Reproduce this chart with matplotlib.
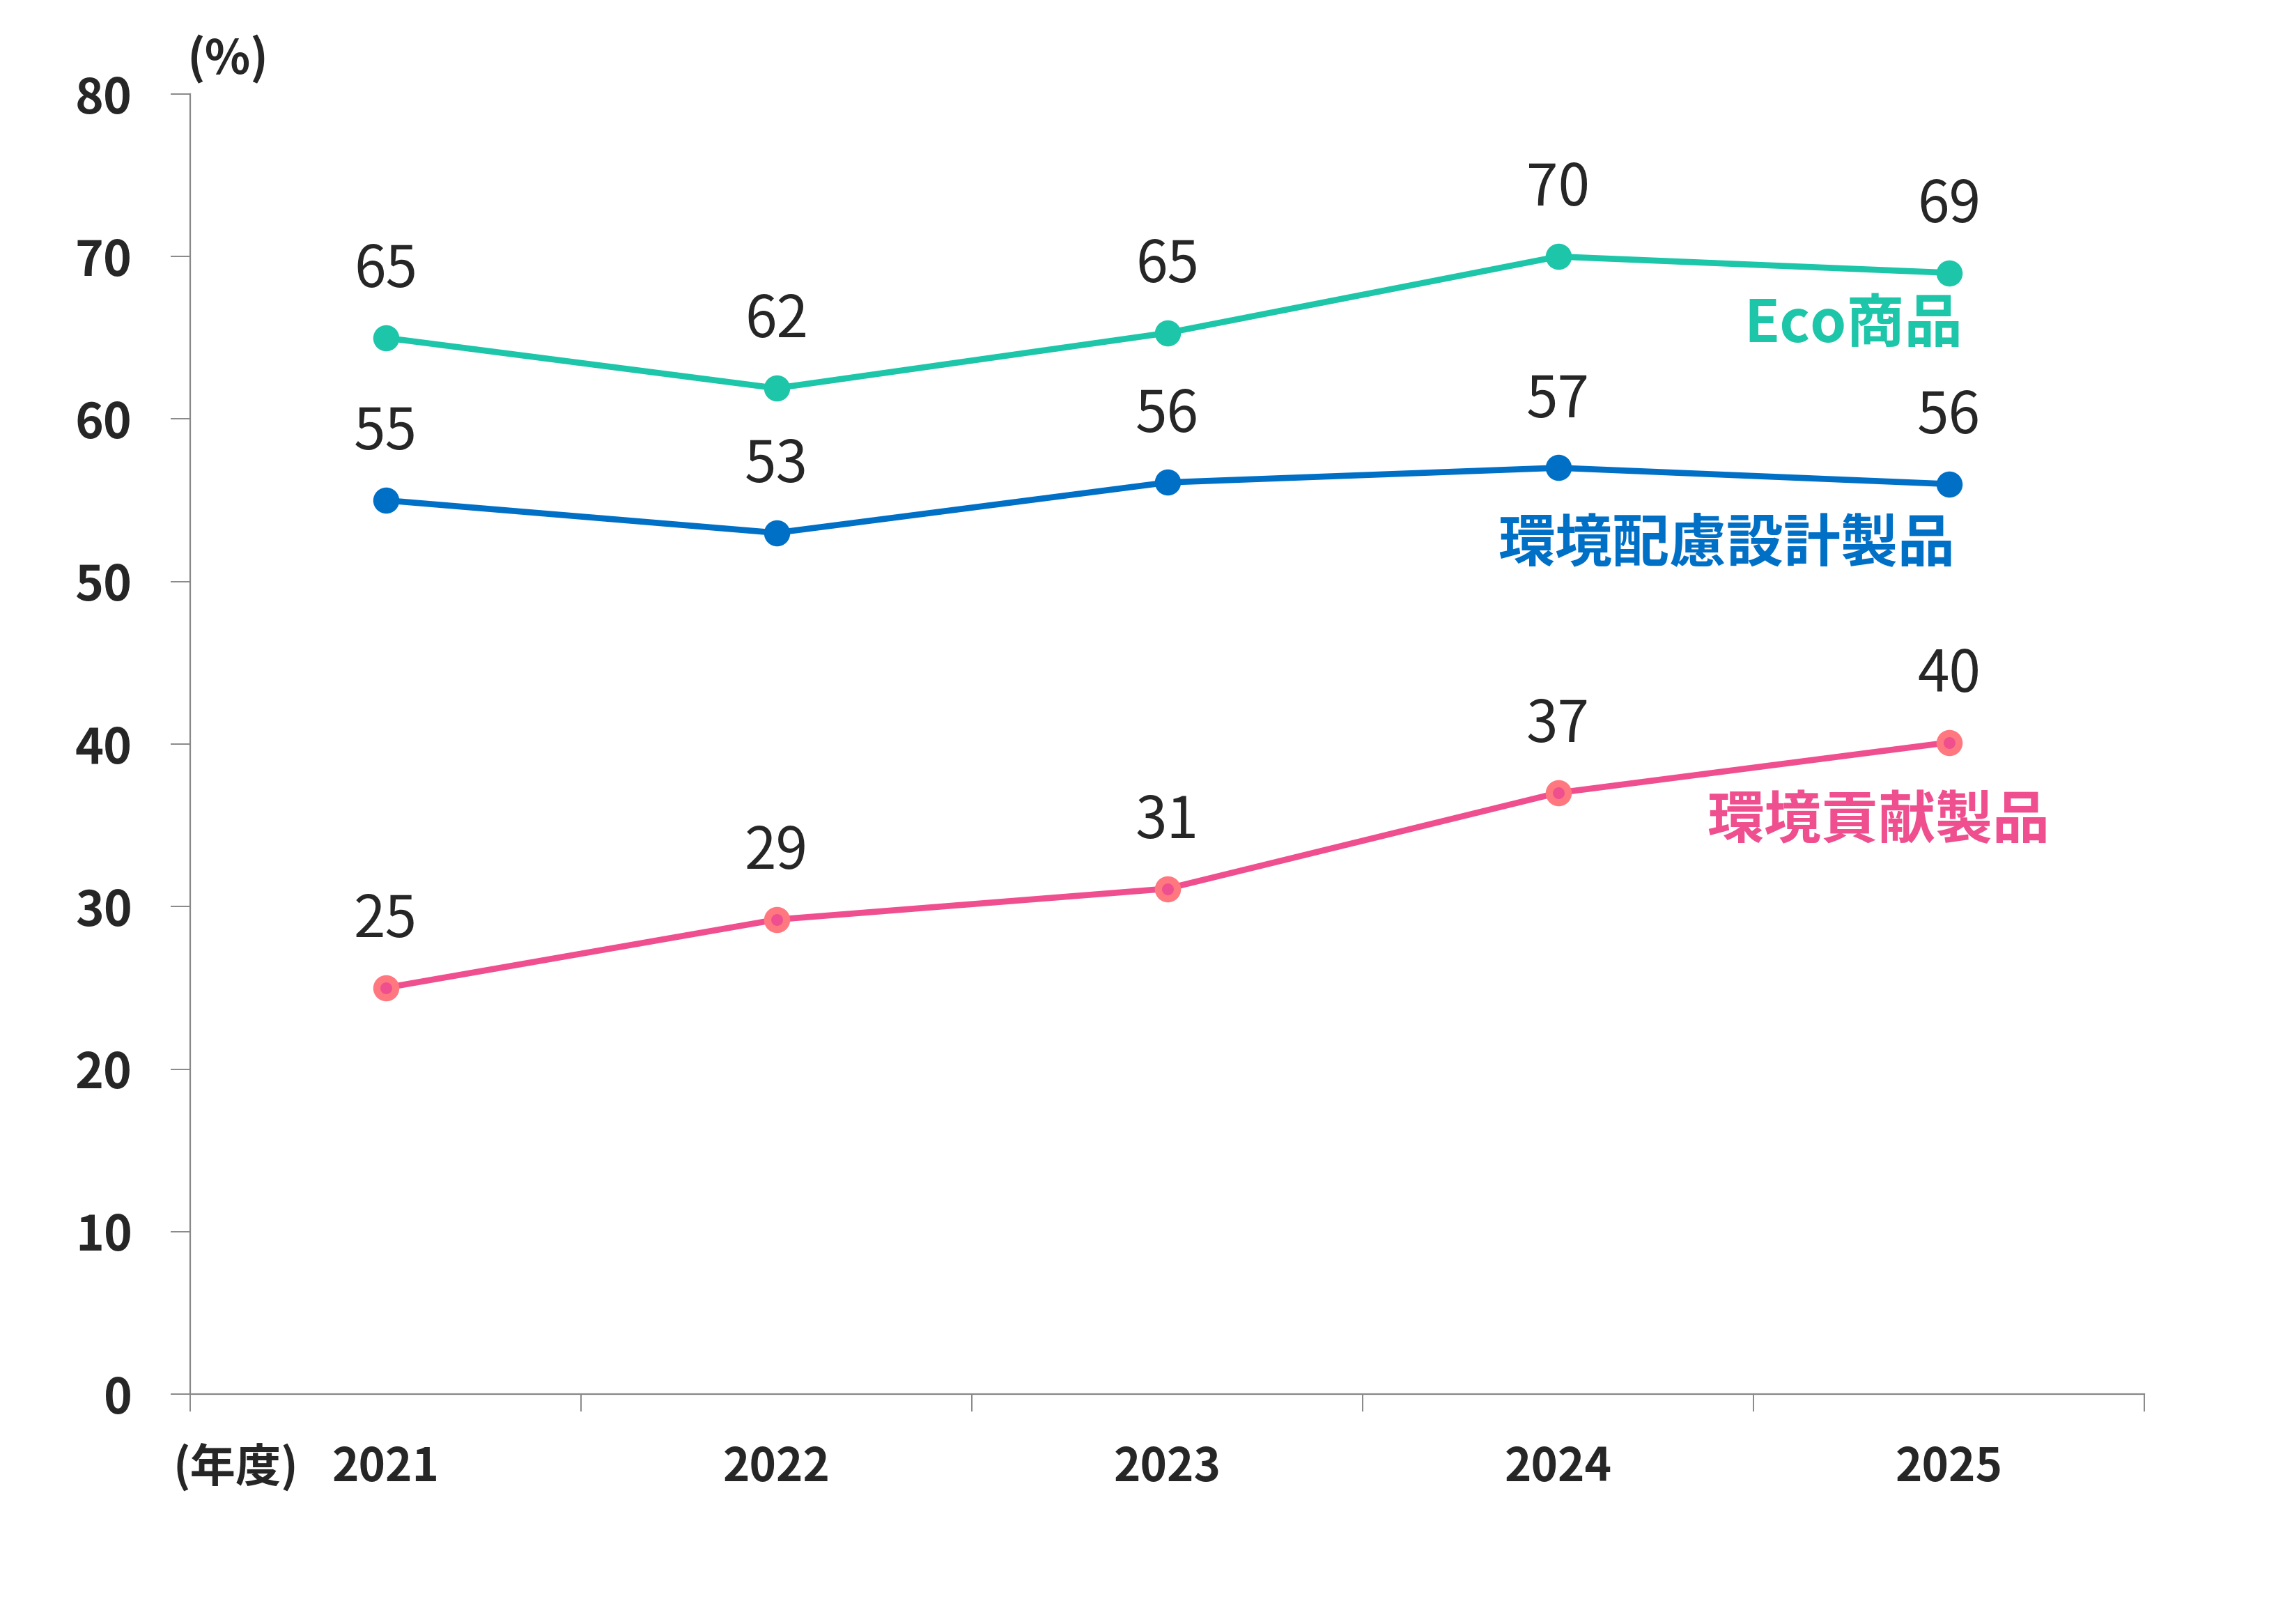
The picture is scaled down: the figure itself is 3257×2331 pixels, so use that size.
import matplotlib
matplotlib.use("Agg")
import matplotlib.pyplot as plt
from matplotlib.ticker import FixedLocator

plt.rcParams['font.family'] = ['Noto Sans CJK JP', 'DejaVu Sans']

years = ['2021', '2022', '2023', '2024', '2025']
eco = [65.0, 61.9, 65.3, 70.0, 69.0]
design = [55.0, 53.0, 56.1, 57.0, 56.0]
contrib = [25.0, 29.2, 31.1, 37.0, 40.1]
eco_labels = ['65', '62', '65', '70', '69']
design_labels = ['55', '53', '56', '57', '56']
contrib_labels = ['25', '29', '31', '37', '40']
yticks = [0, 10, 20, 30, 40, 50, 60, 70, 80]

TEAL = '#1DC5A9'
BLUE = '#0070C6'
PINK = '#EF4F8E'
SALMON = '#FF7880'
TXT = '#262626'
GRAY = '#888888'

W, H = 3257, 2331
fig = plt.figure(figsize=(W / 100, H / 100), dpi=100)
ax = fig.add_axes([273 / W, 1 - 2001 / H, (3078 - 273) / W, (2001 - 135) / H])

x = list(range(len(years)))
ax.plot(x, eco, color=TEAL, lw=6.3, marker='o', ms=27, mew=0, zorder=3)
ax.plot(x, design, color=BLUE, lw=6.3, marker='o', ms=27, mew=0, zorder=3)
ax.plot(x, contrib, color=PINK, lw=6.3, marker='o', ms=19.6,
        mfc=PINK, mec=SALMON, mew=7.4, zorder=3)

for vals, labs in ((eco, eco_labels), (design, design_labels), (contrib, contrib_labels)):
    for xi, v, lab in zip(x, vals, labs):
        ax.annotate(lab, (xi, v), xytext=(0, 52.5), textcoords='offset points',
                    ha='center', va='baseline', fontsize=59, color=TXT)

# series labels near last point
last = len(years) - 1
ax.annotate('Eco商品', (last, eco[last]), xytext=(14, -54), textcoords='offset points',
            ha='right', va='center', fontsize=60, fontweight='bold', color=TEAL)
ax.annotate('環境配慮設計製品', (last, design[last]), xytext=(6, -63), textcoords='offset points',
            ha='right', va='center', fontsize=59, fontweight='bold', color=BLUE)
ax.annotate('環境貢献製品', (last, contrib[last]), xytext=(104, -82), textcoords='offset points',
            ha='right', va='center', fontsize=59, fontweight='bold', color=PINK)

ax.set_xlim(-0.5, len(years) - 0.5)
ax.set_ylim(0, 80)

ax.xaxis.set_major_locator(FixedLocator(x))
ax.set_xticklabels(years)
ax.xaxis.set_minor_locator(FixedLocator([i - 0.5 for i in range(len(years) + 1)]))
ax.tick_params(axis='x', which='major', length=0, pad=52, labelsize=47, labelcolor=TXT)
ax.tick_params(axis='x', which='minor', length=18, width=1.4, color=GRAY, direction='out')
for t in ax.get_xticklabels():
    t.set_fontweight('bold')

ax.set_yticks(yticks)
ax.set_yticklabels([str(v) for v in yticks])
ax.tick_params(axis='y', length=20, width=1.4, color=GRAY, pad=40, labelsize=50, labelcolor=TXT)
for t in ax.get_yticklabels():
    t.set_fontweight('bold')

for s in ('top', 'right'):
    ax.spines[s].set_visible(False)
for s in ('left', 'bottom'):
    ax.spines[s].set_color(GRAY)
    ax.spines[s].set_linewidth(1.6)

fig.text(268 / W, 1 - 106 / H, '(%)', ha='left', va='baseline', fontsize=49,
         fontweight='bold', color=TXT)
fig.text(428 / W, 1 - 2127 / H, '(年度)', ha='right', va='baseline', fontsize=47,
         fontweight='bold', color=TXT)

fig.savefig('out.png', dpi=100, facecolor='white')
